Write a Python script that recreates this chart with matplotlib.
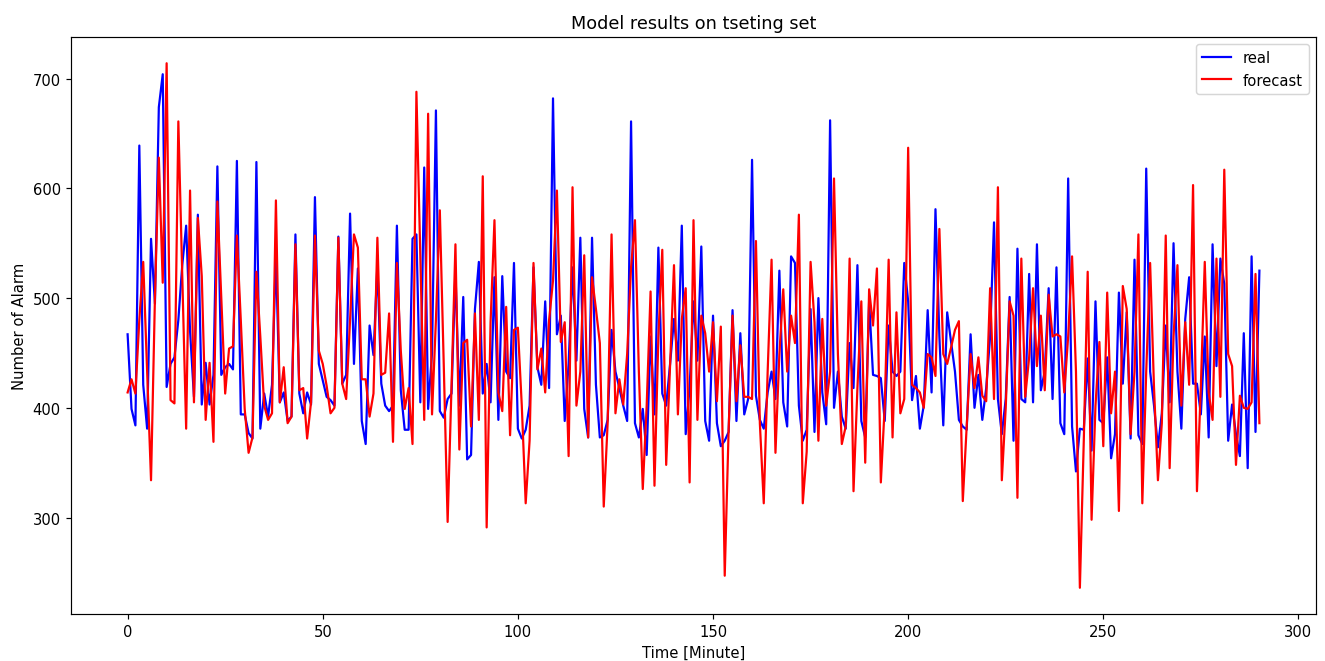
import numpy as np
import matplotlib
matplotlib.use("Agg")
import matplotlib.pyplot as plt

# Alarm counts per minute on the test set
real = [
    467, 399, 384, 639, 421, 381, 554, 495, 674, 704, 419, 440, 446, 480, 530, 566, 470, 410, 576, 403,
    441, 403, 430, 620, 430, 437, 440, 435, 625, 394, 394, 377, 372, 624, 381, 413, 392, 421, 540, 405,
    414, 388, 392, 558, 413, 395, 414, 403, 592, 440, 425, 410, 407, 402, 556, 422, 430, 577, 440, 527,
    388, 367, 475, 448, 530, 422, 402, 397, 402, 566, 416, 380, 380, 554, 558, 405, 619, 399, 450, 671,
    397, 391, 408, 413, 525, 402, 501, 353, 357, 490, 533, 413, 440, 405, 519, 389, 520, 433, 427, 532,
    381, 372, 380, 402, 528, 437, 421, 497, 418, 682, 467, 484, 388, 440, 528, 443, 555, 399, 373, 555,
    421, 373, 375, 389, 471, 433, 418, 402, 388, 661, 386, 373, 399, 357, 465, 394, 546, 413, 402, 440,
    481, 443, 566, 376, 418, 497, 443, 547, 388, 370, 484, 386, 365, 370, 378, 489, 388, 468, 394, 408,
    626, 411, 389, 381, 414, 433, 408, 525, 405, 383, 538, 532, 402, 370, 380, 490, 378, 500, 414, 385,
    662, 400, 433, 392, 381, 459, 418, 530, 388, 373, 497, 430, 429, 427, 388, 475, 433, 429, 433, 532,
    497, 407, 429, 381, 402, 489, 414, 581, 465, 384, 487, 460, 433, 389, 383, 380, 467, 400, 430, 389,
    418, 465, 569, 408, 376, 408, 501, 370, 545, 408, 405, 522, 405, 549, 416, 433, 509, 408, 528, 386,
    376, 609, 383, 342, 381, 380, 445, 361, 497, 389, 386, 446, 354, 376, 505, 422, 487, 372, 535, 375,
    367, 618, 433, 402, 364, 395, 475, 405, 550, 433, 381, 481, 519, 422, 422, 394, 465, 373, 549, 438,
    536, 513, 370, 403, 376, 356, 468, 345, 538, 378, 525,
]

forecast = [
    414, 426, 413, 480, 533, 434, 334, 500, 628, 514, 714, 407, 404, 661, 520, 381, 598, 405, 573, 520,
    389, 441, 369, 588, 500, 413, 454, 456, 557, 480, 399, 359, 373, 524, 465, 402, 389, 395, 589, 405,
    437, 386, 392, 549, 416, 418, 372, 405, 557, 452, 440, 420, 395, 400, 555, 422, 408, 480, 558, 546,
    426, 426, 392, 413, 555, 430, 432, 486, 369, 532, 452, 399, 418, 367, 688, 540, 389, 668, 394, 480,
    580, 440, 296, 420, 549, 362, 459, 462, 383, 486, 389, 611, 291, 478, 571, 414, 397, 492, 375, 471,
    473, 402, 313, 370, 532, 435, 454, 414, 480, 516, 598, 460, 478, 356, 601, 402, 433, 539, 373, 519,
    490, 459, 310, 386, 558, 395, 426, 403, 449, 528, 571, 433, 326, 402, 506, 329, 465, 544, 348, 440,
    530, 394, 481, 509, 332, 571, 389, 484, 468, 433, 478, 406, 474, 247, 380, 484, 406, 457, 410, 410,
    408, 552, 386, 313, 433, 535, 359, 449, 508, 433, 484, 459, 576, 313, 360, 533, 478, 370, 481, 402,
    433, 609, 449, 367, 383, 536, 324, 418, 497, 350, 508, 475, 527, 332, 402, 535, 373, 487, 395, 408,
    637, 421, 418, 414, 400, 449, 446, 429, 563, 449, 440, 455, 471, 479, 315, 383, 449, 418, 446, 411,
    406, 509, 408, 601, 334, 400, 497, 484, 318, 536, 410, 446, 509, 438, 484, 416, 503, 465, 467, 465,
    414, 465, 538, 433, 236, 370, 524, 298, 402, 460, 365, 505, 395, 433, 306, 511, 490, 376, 433, 558,
    313, 433, 532, 418, 334, 386, 557, 345, 465, 530, 402, 478, 421, 603, 324, 420, 533, 414, 389, 536,
    410, 617, 449, 438, 348, 411, 400, 399, 405, 522, 386,
]

minutes = np.arange(len(real))

fig = plt.figure(figsize=(12.5, 6.245), dpi=106)
ax = fig.add_axes([0.0536, 0.071, 0.9396, 0.8716])

ax.plot(minutes, real, color='b', label='real')
ax.plot(minutes, forecast, color='r', label='forecast')

ax.set_title('Model results on tseting set')
ax.set_xlabel('Time [Minute]')
ax.set_ylabel('Number of Alarm')
ax.legend(loc='upper right')

fig.savefig('out.png', dpi=106)
